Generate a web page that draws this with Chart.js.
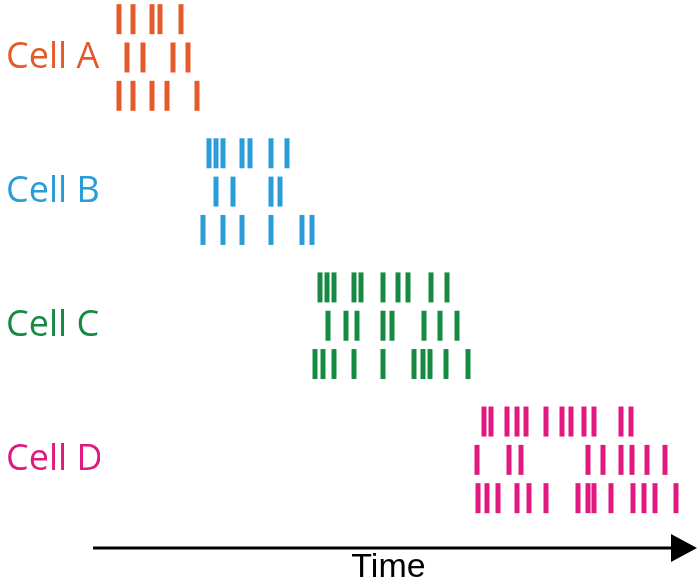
<!DOCTYPE html>
<html lang="en">
<head>
    <meta charset="UTF-8">
    <title>Cell firing over time</title>
    <script src="https://cdn.jsdelivr.net/npm/chart.js@4.4.1/dist/chart.umd.min.js"></script>
    <style>
        body, html {
            margin: 0;
            padding: 0;
            background: #fff;
            overflow: hidden;
        }
        .chart-box {
            width: 700px;
            height: 585px;
        }
        canvas {
            display: block;
        }
    </style>
</head>
<body>
    <div class="chart-box">
        <canvas id="raster"></canvas>
    </div>

    <script>
        // cell names and colours
        const cellNames = ['Cell A', 'Cell B', 'Cell C', 'Cell D'];
        const cellColors = ['#E45A2A', '#2A9CD8', '#178A42', '#E0187F'];

        // spike times (arbitrary time units), three trials per cell
        const cellA = [
            [26, 40, 59, 67, 88],
            [34, 50, 80, 95],
            [26, 40, 59, 74, 104]
        ];
        const cellB = [
            [116, 123, 130, 149, 157, 178, 194],
            [123, 140, 178, 187],
            [110, 130, 149, 178, 209, 219]
        ];
        const cellC = [
            [227, 234, 241, 261, 268, 290, 305, 315, 338, 354],
            [235, 253, 264, 290, 299, 331, 347, 364],
            [222, 230, 241, 261, 290, 321, 330, 337, 353, 375]
        ];
        const cellD = [
            [391, 398, 414, 424, 433, 453, 469, 478, 491, 501, 528, 538],
            [384, 416, 428, 495, 510, 528, 539, 554, 572],
            [385, 394, 405, 424, 436, 453, 485, 495, 501, 518, 540, 551, 562, 583]
        ];

        const cells = [cellA, cellB, cellC, cellD];

        // visible time window, and where the time arrow starts / ends
        const timeMin = 7;
        const timeMax = 584;
        const arrowStart = 0;
        const arrowEnd = 604;

        // each cell takes 3 trial rows plus half a row gap
        const rowsPerCell = 3.5;

        const datasets = [];
        cells.forEach((trials, c) => {
            trials.forEach((spikes, t) => {
                datasets.push({
                    label: cellNames[c] + ' trial ' + (t + 1),
                    data: spikes.map(s => ({ x: s, y: c * rowsPerCell + t })),
                    pointStyle: 'line',
                    rotation: 90,
                    radius: 15,
                    hoverRadius: 15,
                    borderWidth: 5,
                    hoverBorderWidth: 5,
                    borderColor: cellColors[c],
                    backgroundColor: cellColors[c],
                    clip: false
                });
            });
        });

        // time arrow along the bottom of the plot
        const timeArrow = {
            id: 'timeArrow',
            afterDraw(chart) {
                const ctx = chart.ctx;
                const xs = chart.scales.x;
                const x0 = xs.getPixelForValue(arrowStart);
                const x1 = xs.getPixelForValue(arrowEnd);
                const y = chart.chartArea.bottom;
                ctx.save();
                ctx.strokeStyle = '#000';
                ctx.fillStyle = '#000';
                ctx.lineWidth = 3;
                ctx.beginPath();
                ctx.moveTo(x0, y);
                ctx.lineTo(x1 - 20, y);
                ctx.stroke();
                ctx.beginPath();
                ctx.moveTo(x1, y);
                ctx.lineTo(x1 - 26, y - 14);
                ctx.lineTo(x1 - 26, y + 14);
                ctx.closePath();
                ctx.fill();
                ctx.restore();
            }
        };

        new Chart(document.getElementById('raster').getContext('2d'), {
            type: 'scatter',
            data: { datasets: datasets },
            options: {
                responsive: true,
                maintainAspectRatio: false,
                animation: false,
                events: [],
                layout: {
                    autoPadding: false,
                    padding: { left: 6, right: 23, top: 0, bottom: 0 }
                },
                plugins: {
                    legend: { display: false },
                    tooltip: { enabled: false }
                },
                scales: {
                    x: {
                        type: 'linear',
                        min: timeMin,
                        max: timeMax,
                        grid: { display: false, drawTicks: false },
                        border: { display: false },
                        ticks: { display: false },
                        title: {
                            display: true,
                            text: 'Time',
                            color: '#000',
                            font: { family: 'Liberation Sans, Arial, sans-serif', size: 34, lineHeight: 1 },
                            padding: { top: 3, bottom: 0 }
                        }
                    },
                    y: {
                        type: 'linear',
                        reverse: true,
                        min: -0.5,
                        max: 13.8,
                        grid: { display: false, drawTicks: false },
                        border: { display: false },
                        afterBuildTicks: (scale) => {
                            scale.ticks = cellNames.map((n, i) => ({ value: i * rowsPerCell + 1 }));
                        },
                        afterFit: (scale) => {
                            scale.width = 94;
                            scale.paddingTop = 0;
                            scale.paddingBottom = 0;
                        },
                        ticks: {
                            autoSkip: false,
                            crossAlign: 'far',
                            padding: 0,
                            font: { family: 'Open Sans', size: 36 },
                            color: (ctx) => cellColors[ctx.index],
                            callback: (value, index) => cellNames[index]
                        }
                    }
                }
            },
            plugins: [timeArrow]
        });
    </script>
</body>
</html>
